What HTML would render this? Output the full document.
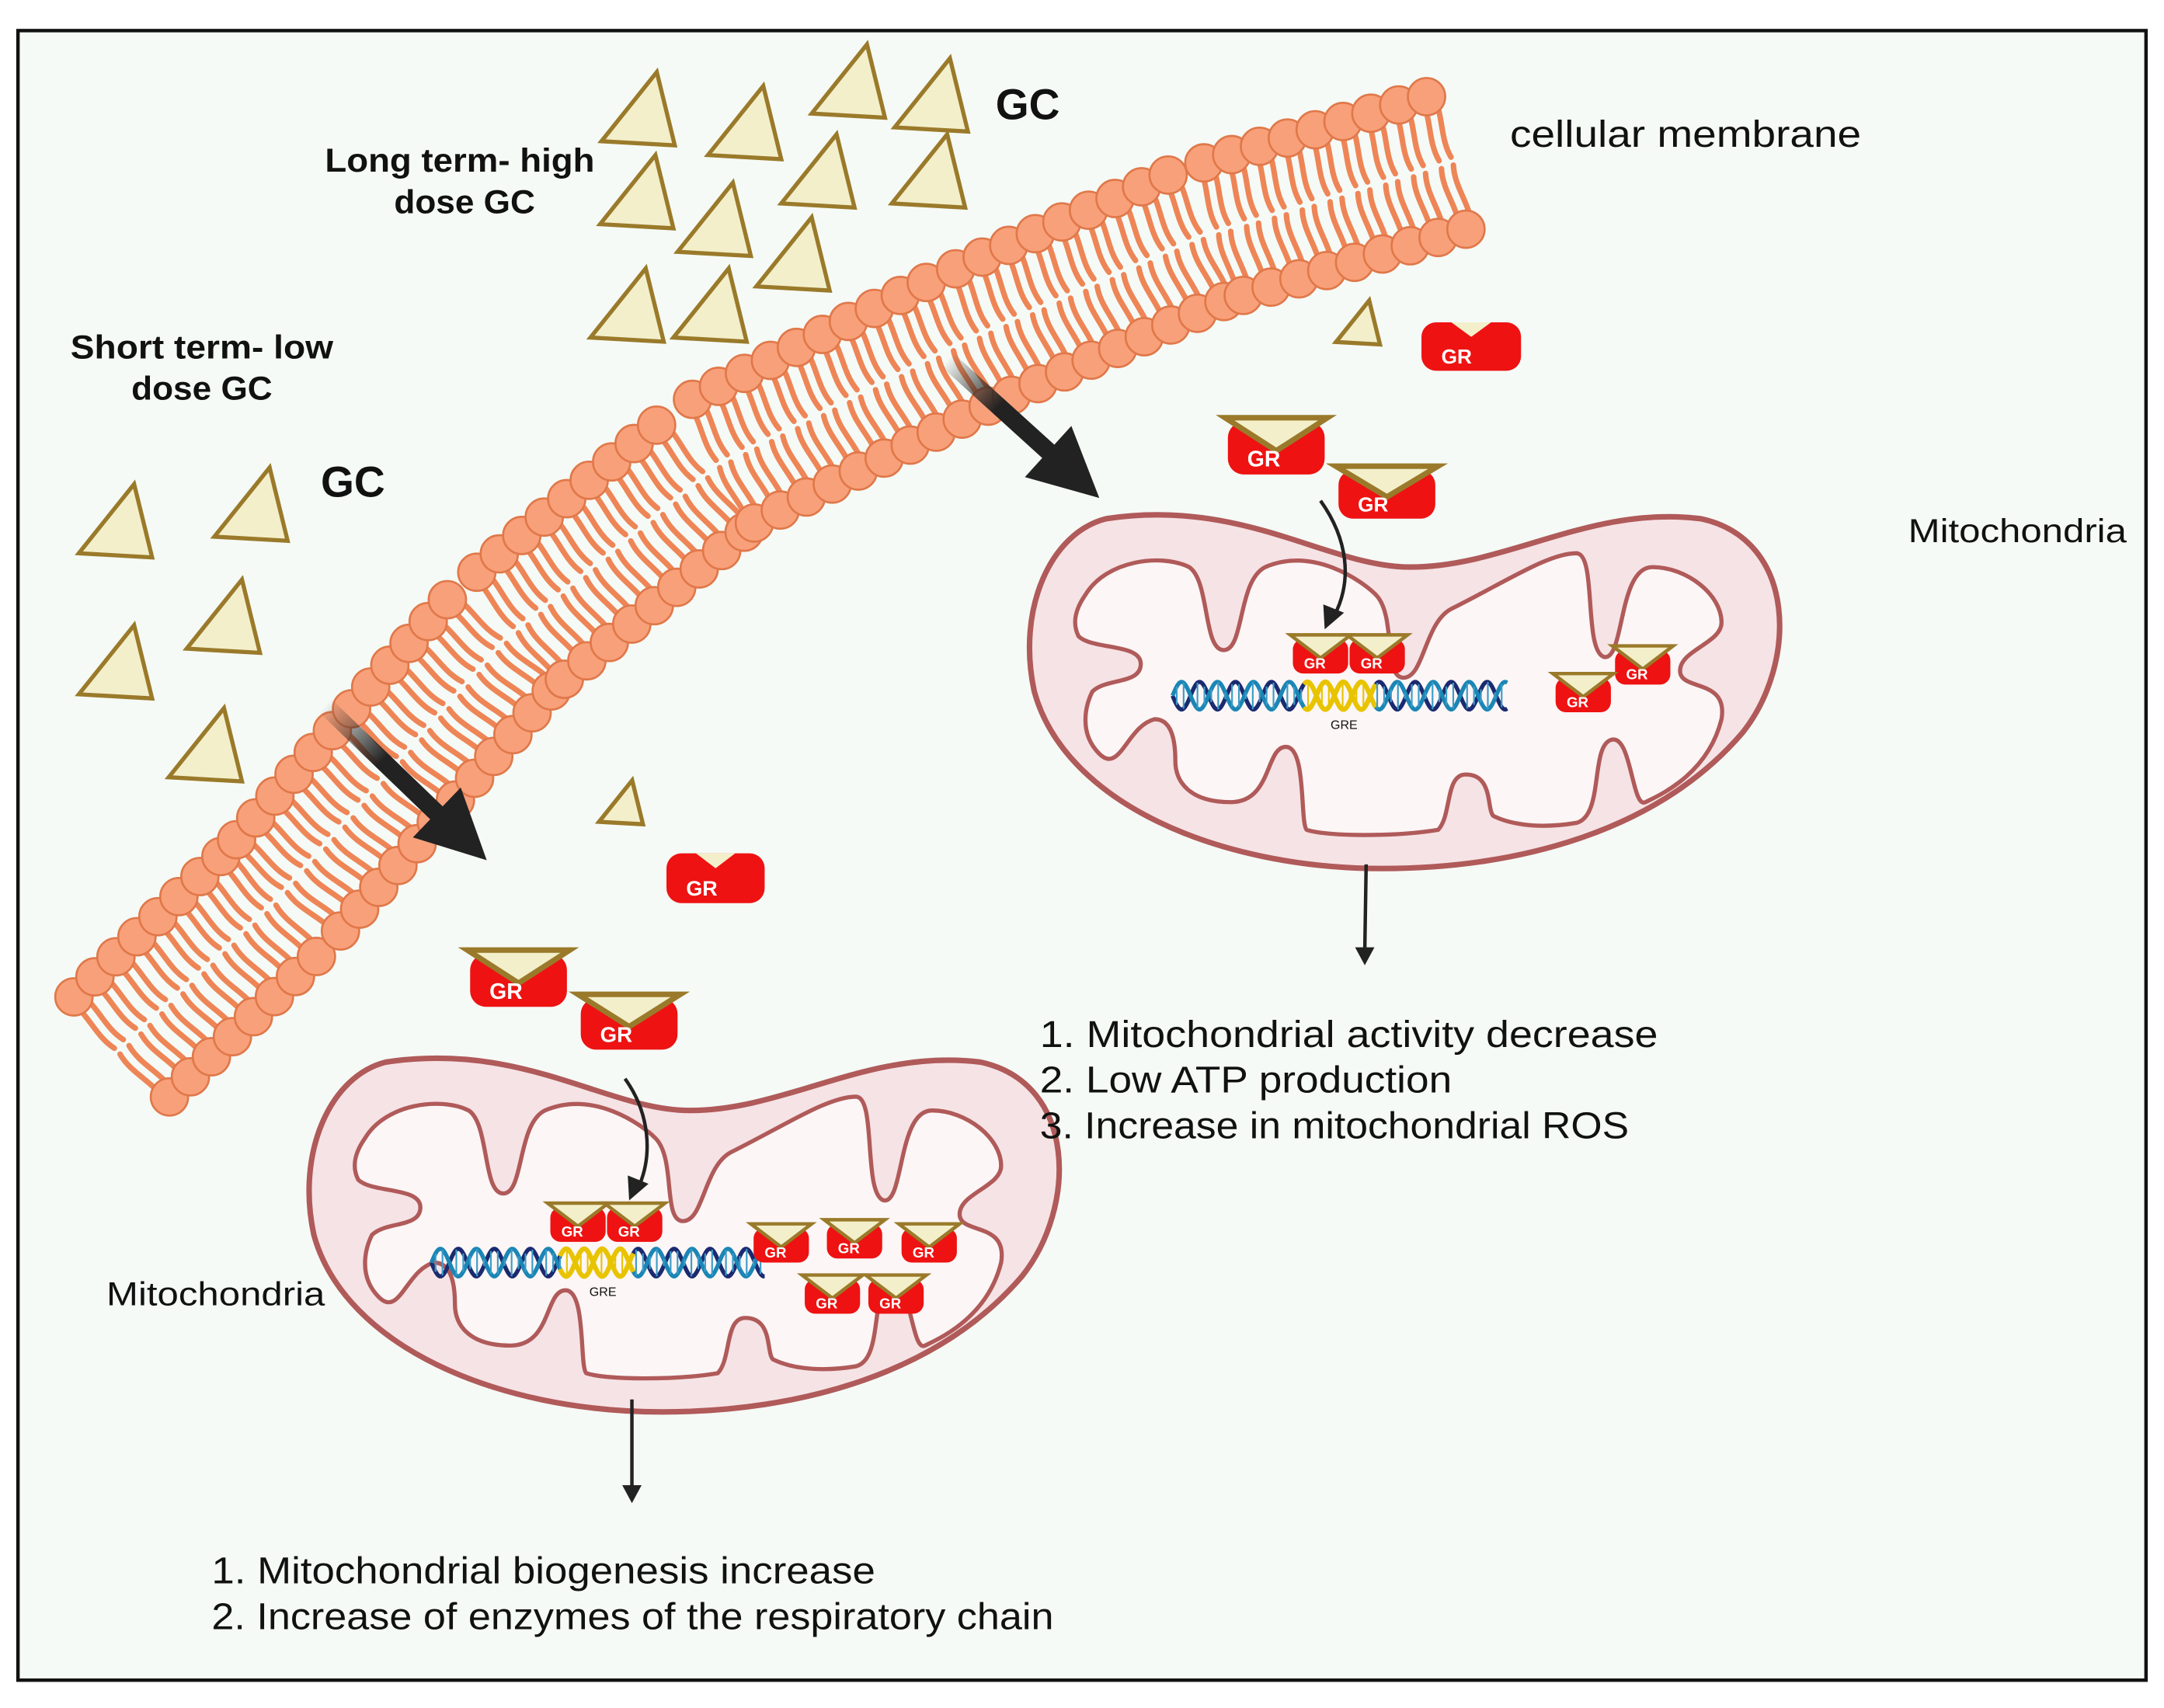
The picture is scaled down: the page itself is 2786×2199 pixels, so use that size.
<!DOCTYPE html>
<html><head><meta charset="utf-8"><style>
html,body{margin:0;padding:0;background:#fff;}
svg{display:block;}
text{font-family:"Liberation Sans",sans-serif;}
</style></head><body>
<svg id="s" xmlns="http://www.w3.org/2000/svg" width="2786" height="2199" viewBox="0 0 1565 1235">
<defs>
<linearGradient id="ga" gradientUnits="userSpaceOnUse" x1="685" y1="260" x2="760" y2="328"><stop offset="0" stop-color="#222" stop-opacity="0"/><stop offset="0.5" stop-color="#222"/></linearGradient>
<linearGradient id="gb" gradientUnits="userSpaceOnUse" x1="235" y1="510" x2="318" y2="590"><stop offset="0" stop-color="#222" stop-opacity="0"/><stop offset="0.5" stop-color="#222"/></linearGradient>
<g id="mito">
<path d="M 800,375 C 900,360 960,410 1020,410 C 1090,410 1150,365 1230,375 C 1300,390 1300,480 1260,530 C 1200,600 1100,628 1000,628 C 880,628 770,580 748,500 C 735,440 760,385 800,375 Z" fill="#f6e3e5" stroke="#b05a5a" stroke-width="4"/>
<path d="M 785,430 C 800,405 840,400 860,410 C 875,420 870,470 885,470 C 900,470 895,420 915,410 C 950,395 985,420 995,430 C 1010,445 1000,490 1015,490 C 1030,490 1030,450 1050,440 C 1090,420 1120,400 1140,400 C 1155,400 1145,470 1160,475 C 1175,478 1170,410 1195,410 C 1220,410 1245,430 1245,450 C 1245,465 1215,470 1215,485 C 1215,500 1250,490 1245,520 C 1235,560 1200,575 1190,580 C 1180,585 1180,530 1165,535 C 1150,540 1160,590 1140,595 C 1110,600 1090,595 1080,590 C 1075,585 1080,560 1060,560 C 1045,560 1050,590 1040,600 C 1010,605 960,605 945,600 C 940,595 945,540 930,540 C 915,540 920,580 890,580 C 860,580 850,565 850,550 C 850,530 845,520 835,520 C 815,525 810,560 795,545 C 780,530 785,510 790,500 C 800,490 825,495 825,480 C 825,465 790,470 780,460 C 775,450 778,440 785,430 Z" fill="#fcf6f6" stroke="#b05a5a" stroke-width="3"/>
</g>
</defs>
<rect x="13" y="22" width="1539" height="1193" fill="#f5faf6" stroke="#111" stroke-width="2.5"/>
<g id="mem"></g>
<use href="#mito"/>
<use href="#mito" transform="translate(-521,393)"/>
<g id="tri" fill="#f3efcb" stroke="#9a7a2a" stroke-width="3" stroke-linejoin="miter"></g>
<g id="dna"></g>
<g id="gr"></g>
<line x1="685" y1="260" x2="760" y2="328" stroke="url(#ga)" stroke-width="13"/>
<polygon points="795,360 741.2,344.9 774.8,307.9" fill="#222"/>
<line x1="235" y1="510" x2="318" y2="590" stroke="url(#gb)" stroke-width="13"/>
<polygon points="352,622 298.6,605.5 333.2,569.4" fill="#222"/>
<g stroke="#222" stroke-width="2.5" fill="none">
<path d="M 955,362 C 975,390 978,420 965,445"/>
<path d="M 452,780 C 470,805 472,835 462,858"/>
<line x1="988" y1="625" x2="987" y2="688"/>
<line x1="457" y1="1012" x2="457" y2="1077"/>
</g>
<g fill="#222">
<polygon points="958,455 957,437 972,443"/>
<polygon points="455,868 454,850 469,856"/>
<polygon points="987,698 980,685 994,685"/>
<polygon points="457,1087 450,1074 464,1074"/>
</g>
<g fill="#111">
<text x="720" y="86" font-size="31" font-weight="bold">GC</text>
<text x="232" y="359" font-size="31" font-weight="bold">GC</text>
<text x="235" y="124" font-size="24" font-weight="bold" textLength="195" lengthAdjust="spacingAndGlyphs">Long term- high</text>
<text x="285" y="154" font-size="24" font-weight="bold" textLength="102" lengthAdjust="spacingAndGlyphs">dose GC</text>
<text x="51" y="259" font-size="24" font-weight="bold" textLength="190" lengthAdjust="spacingAndGlyphs">Short term- low</text>
<text x="95" y="289" font-size="24" font-weight="bold" textLength="102" lengthAdjust="spacingAndGlyphs">dose GC</text>
<text x="1092" y="106" font-size="27" textLength="254" lengthAdjust="spacingAndGlyphs">cellular membrane</text>
<text x="1380" y="392" font-size="24" textLength="158" lengthAdjust="spacingAndGlyphs">Mitochondria</text>
<text x="77" y="944" font-size="24" textLength="158" lengthAdjust="spacingAndGlyphs">Mitochondria</text>
<text x="752" y="757" font-size="27" textLength="447" lengthAdjust="spacingAndGlyphs">1.  Mitochondrial activity  decrease</text>
<text x="752" y="790" font-size="27" textLength="298" lengthAdjust="spacingAndGlyphs">2.  Low ATP production</text>
<text x="752" y="823" font-size="27" textLength="426" lengthAdjust="spacingAndGlyphs">3.  Increase in mitochondrial ROS</text>
<text x="153" y="1145" font-size="27" textLength="480" lengthAdjust="spacingAndGlyphs">1.  Mitochondrial biogenesis increase</text>
<text x="153" y="1178" font-size="27" textLength="609" lengthAdjust="spacingAndGlyphs">2.  Increase of enzymes of the respiratory chain</text>
<text x="972" y="527" font-size="9" text-anchor="middle">GRE</text>
<text x="436" y="937" font-size="9" text-anchor="middle">GRE</text>
</g>
</svg>
<script>
var NS="http://www.w3.org/2000/svg";
function el(p,t,a,txt){var e=document.createElementNS(NS,t);for(var k in a)e.setAttribute(k,a[k]);if(txt)e.textContent=txt;p.appendChild(e);return e;}
var C=[[88,757],[200,650],[366,461],[520,335],[700,245],[870,170],[1055,115]];
var segs=[],tot=0;
for(var i=0;i<C.length-1;i++){var dx=C[i+1][0]-C[i][0],dy=C[i+1][1]-C[i][1],l=Math.hypot(dx,dy);segs.push([C[i],dx,dy,l,tot]);tot+=l;}
function at(s){for(var i=0;i<segs.length;i++){var g=segs[i];if(s<=g[4]+g[3]||i==segs.length-1){var f=(s-g[4])/g[3];return [g[0][0]+g[1]*f,g[0][1]+g[2]*f,g[1]/g[3],g[2]/g[3]];}}}
var mem=document.getElementById("mem");var tails=el(mem,"g",{stroke:"#ee8556","stroke-width":"4","stroke-linecap":"round",fill:"none"});var heads=el(mem,"g",{fill:"#f8a07a",stroke:"#e0784a","stroke-width":"1.5"});
var hlist=[];
for(var s=0;s<=tot+1;s+=21){var p=at(s);var tx=p[2],ty=p[3];var nx=-ty,ny=tx;
 [-1,1].forEach(function(sg){var hx=p[0]+sg*nx*50,hy=p[1]+sg*ny*50;
  [-1,1].forEach(function(o){var sx=hx+tx*4.5*o,sy=hy+ty*4.5*o;var ex=p[0]+tx*4.5*o+sg*nx*3,ey=p[1]+ty*4.5*o+sg*ny*3;
   var q1x=sx+(ex-sx)*0.33+tx*4,q1y=sy+(ey-sy)*0.33+ty*4,q2x=sx+(ex-sx)*0.66-tx*4,q2y=sy+(ey-sy)*0.66-ty*4;
   el(tails,"path",{d:"M"+sx+","+sy+" C"+q1x+","+q1y+" "+q2x+","+q2y+" "+ex+","+ey});});
  hlist.push([hx,hy]);});}
hlist.forEach(function(h){el(heads,"circle",{cx:h[0],cy:h[1],r:13.5});});
var tri=document.getElementById("tri");
function T(cx,cy,k){k=k||1;el(tri,"polygon",{points:(cx-28*k)+","+(cy+22*k)+" "+(cx+25*k)+","+(cy+25*k)+" "+(cx+12*k)+","+(cy-28*k)});}
[[463,80],[540,90],[615,60],[675,70],[462,140],[518,160],[593,125],[673,125],[455,222],[515,222],[575,185],[85,378],[183,366],[85,480],[163,447],[150,540]].forEach(function(a){T(a[0],a[1]);});
T(983,234,0.6);T(450,581,0.6);
var gr=document.getElementById("gr");
function G(x,y,w,h,big){el(gr,"rect",{x:x,y:y,width:w,height:h,rx:h*0.3,fill:"#ee1212"});
 if(big){el(gr,"polygon",{points:(x-2)+","+(y-3)+" "+(x+w+2)+","+(y-3)+" "+(x+w/2)+","+(y+h*0.55),fill:"#f3efcb",stroke:"#9a7a2a","stroke-width":big==2?4:2.5});}
 else{el(gr,"polygon",{points:(x+w*0.3)+","+y+" "+(x+w*0.7)+","+y+" "+(x+w/2)+","+(y+h*0.3),fill:"#f3efcb"});}
 el(gr,"text",{x:x+w*0.2,y:y+h*0.85,"font-size":h*0.42,"font-weight":"bold",fill:"#fff"},"GR");}
G(1028,233,72,35,0);G(482,617,71,36,0);
G(888,305,70,38,2);G(968,340,70,35,2);G(340,690,70,38,2);G(420,722,70,37,2);
[[935,462],[976,462],[1168,470],[1125,490],[398,873],[439,873],[545,888],[598,885],[652,888],[582,925],[628,925]].forEach(function(a){G(a[0],a[1],40,25,1);});
var dna=document.getElementById("dna");
function D(x0,x1,y,y0,y1){var per=26,A=10;
 [[0,"#1b2a70"],[Math.PI,"#1b86b5"]].forEach(function(c){var d="";for(var x=x0;x<=x1;x+=1){d+=(x==x0?"M":"L")+x+","+(y+A*Math.sin((x-x0)/per*2*Math.PI+c[0]));}el(dna,"path",{d:d,stroke:c[1],"stroke-width":"3",fill:"none"});});
 var d2="";[0,Math.PI].forEach(function(ph){for(var x=y0;x<=y1;x+=1){d2+=(x==y0?"M":"L")+x+","+(y+A*Math.sin((x-x0)/per*2*Math.PI+ph));}});
 el(dna,"path",{d:d2,stroke:"#e8c400","stroke-width":"3.5",fill:"none"});
 for(var x=x0+3;x<x1;x+=5){var a=y+A*Math.sin((x-x0)/per*2*Math.PI),b=y-A*Math.sin((x-x0)/per*2*Math.PI);el(dna,"line",{x1:x,y1:a,x2:x,y2:b,stroke:(x>y0&&x<y1)?"#e8c400":"#3a9cc8","stroke-width":"1.2"});}}
D(848,1090,503,943,995);D(312,553,913,405,458);
</script>
</body></html>
